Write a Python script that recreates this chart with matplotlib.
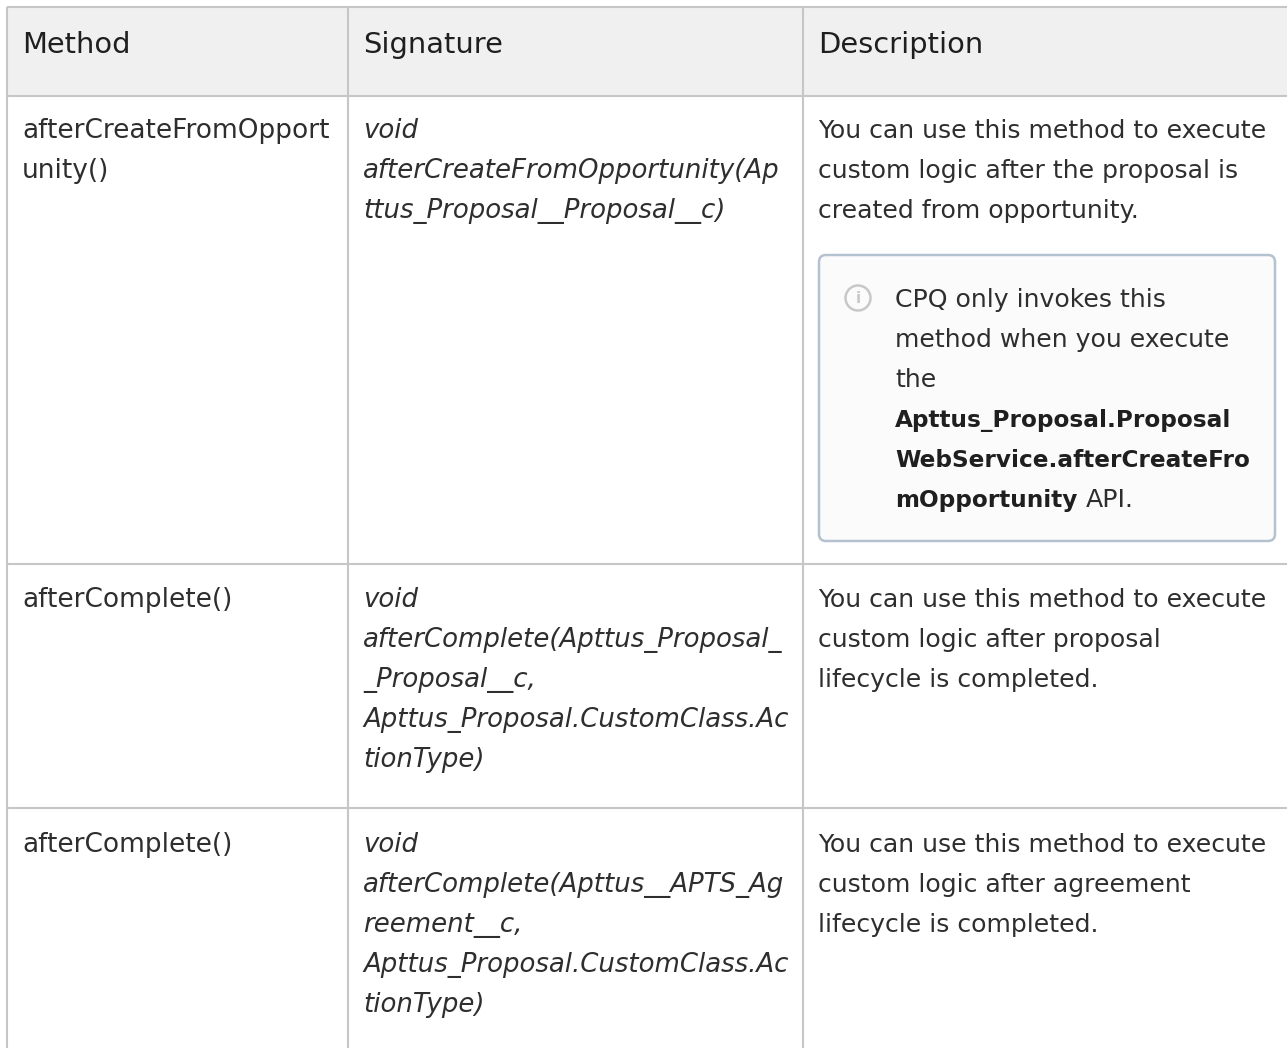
import matplotlib
matplotlib.use("Agg")
import matplotlib.pyplot as plt
from matplotlib.patches import FancyBboxPatch, Rectangle, Circle
from matplotlib.textpath import TextPath
from matplotlib.font_manager import FontProperties

W, H = 1287, 1048
FAM = "DejaVu Sans"
TXT = "#2e2e2e"
GRID = "#c6c6c6"

headers = ["Method", "Signature", "Description"]
col_lines = [7, 348, 803]
row_lines = [7, 96, 564, 808]
methods = [("afterCreateFromOpport\nunity()", 138), ("afterComplete()", 607), ("afterComplete()", 852)]
signatures = [
    ("void\nafterCreateFromOpportunity(Ap\nttus_Proposal__Proposal__c)", 138),
    ("void\nafterComplete(Apttus_Proposal_\n_Proposal__c,\nApttus_Proposal.CustomClass.Ac\ntionType)", 607),
    ("void\nafterComplete(Apttus__APTS_Ag\nreement__c,\nApttus_Proposal.CustomClass.Ac\ntionType)", 852),
]
descriptions = [
    ("You can use this method to execute\ncustom logic after the proposal is\ncreated from opportunity.", 138),
    ("You can use this method to execute\ncustom logic after proposal\nlifecycle is completed.", 607),
    ("You can use this method to execute\ncustom logic after agreement\nlifecycle is completed.", 852),
]
note_lines = [
    ("CPQ only invokes this", "normal", 307),
    ("method when you execute", "normal", 347),
    ("the", "normal", 387),
    ("Apttus_Proposal.Proposal", "bold", 427),
    ("WebService.afterCreateFro", "bold", 467),
    ("mOpportunity", "bold", 507),
]

def fit(sample, px, **kw):
    """font size in points at which the sample line is px pixels wide at 100 dpi"""
    bb = TextPath((0, 0), sample, size=10, prop=FontProperties(family=FAM, **kw)).get_extents()
    return 10 * (px * 72 / 100) / bb.width

FS = fit("You can use this method to execute", 447)
FS_H = fit("Description", 159)
FS_M = fit("afterCreateFromOpport", 305)
FS_I = fit("Apttus_Proposal.CustomClass.Ac", 427, style="italic")
FS_B = fit("WebService.afterCreateFro", 353, weight="bold")

fig = plt.figure(figsize=(W / 100, H / 100), dpi=100, facecolor="white")
ax = fig.add_axes([0, 0, 1, 1])
ax.set_xlim(0, W); ax.set_ylim(H, 0); ax.axis("off")

ax.add_patch(Rectangle((7, 7), W, 89, fc="#f0f0f0", ec="none", zorder=0))
for x in col_lines:
    ax.plot([x, x], [7, H], color=GRID, lw=1.5, zorder=1, solid_capstyle="butt")
for y in row_lines:
    ax.plot([7, W], [y, y], color=GRID, lw=1.5, zorder=1, solid_capstyle="butt")

def lines(x, block, y0, size, step=40, **kw):
    for i, s in enumerate(block.split("\n")):
        ax.text(x, y0 + i * step, s, family=FAM, fontsize=size, color=TXT,
                va="baseline", ha="left", **kw)

for x, h in zip([22, 363, 818], headers):
    ax.text(x, 53, h, family=FAM, fontsize=FS_H, color="#1f1f1f", va="baseline")
for s, y in methods:
    lines(22, s, y, FS_M)
for s, y in signatures:
    lines(363, s, y, FS_I, style="italic")
for s, y in descriptions:
    lines(818, s, y, FS)

ax.add_patch(FancyBboxPatch((819, 255), 456, 286, boxstyle="round,pad=0,rounding_size=7",
                            fc="#fbfbfb", ec="#b4c2d0", lw=1.8, zorder=2))
ax.add_patch(Circle((858, 298), 12.5, fc="none", ec="#c8c8c8", lw=1.8, zorder=3))
ax.text(858, 298.5, "i", family=FAM, fontsize=11, weight="bold", color="#c8c8c8",
        ha="center", va="center", zorder=3)
for s, w, y in note_lines:
    ax.text(895, y, s, family=FAM, fontsize=FS_B if w == "bold" else FS,
            color="#1f1f1f" if w == "bold" else TXT, va="baseline", weight=w, zorder=3)
ax.text(1086, 507, "API.", family=FAM, fontsize=FS, color=TXT, va="baseline", zorder=3)

fig.savefig("out.png", dpi=100)
